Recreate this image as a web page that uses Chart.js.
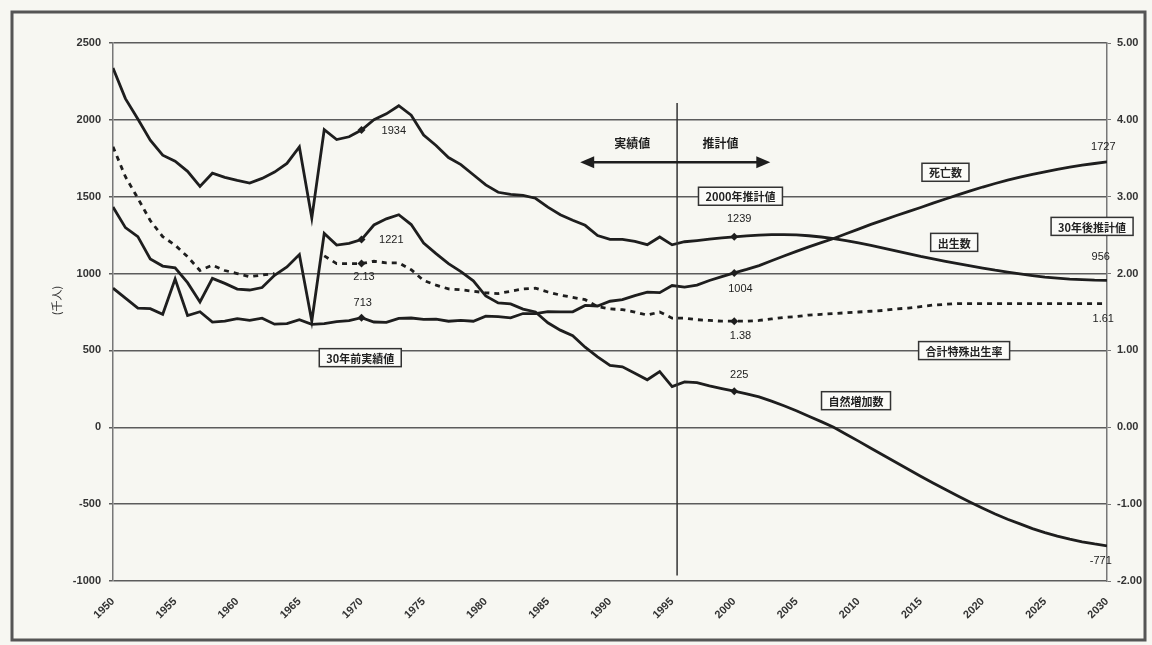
<!DOCTYPE html>
<html lang="ja">
<head>
<meta charset="utf-8">
<script src="https://cdn.jsdelivr.net/npm/chart.js@4.4.1/dist/chart.umd.min.js"></script>
<style>
  html, body { margin: 0; padding: 0; background: #f7f7f2; }
</style>
</head>
<body>
<canvas id="chart" width="1152" height="645"></canvas>
<script>
// 年次 (1950-1995 実績値, 1996- 推計値)
const years = [
  1950,1951,1952,1953,1954,1955,1956,1957,1958,1959,
  1960,1961,1962,1963,1964,1965,1966,1967,1968,1969,
  1970,1971,1972,1973,1974,1975,1976,1977,1978,1979,
  1980,1981,1982,1983,1984,1985,1986,1987,1988,1989,
  1990,1991,1992,1993,1994,1995,1996,1997,1998,1999,
  2000,2001,2002,2003,2004,2005,2006,2007,2008,2009,
  2010,2011,2012,2013,2014,2015,2016,2017,2018,2019,
  2020,2021,2022,2023,2024,2025,2026,2027,2028,2029,
  2030
];
// 出生数 (千人)
const births = [
  2338,2138,2005,1868,1770,1731,1665,1567,1653,1626,
  1606,1589,1619,1660,1717,1824,1361,1936,1872,1890,
  1934,2001,2039,2092,2030,1901,1833,1755,1709,1643,
  1577,1529,1515,1509,1490,1432,1383,1347,1314,1247,
  1222,1223,1209,1188,1238,1187,1207,1215,1224,1232,
  1239,1245,1250,1253,1254,1252,1246,1238,1228,1214,
  1199,1184,1166,1148,1130,1112,1096,1080,1065,1050,
  1036,1022,1010,998,987,977,970,964,960,957,
  956
];
// 死亡数 (千人)
const deaths = [
  905,840,775,772,735,965,727,752,684,690,
  707,696,710,671,674,700,670,675,687,694,
  713,685,683,709,711,702,703,690,696,690,
  723,720,712,740,740,752,751,751,793,789,
  820,830,857,879,876,922,912,925,955,980,
  1004,1027,1052,1083,1114,1144,1174,1201,1228,1259,
  1289,1320,1348,1376,1403,1430,1458,1485,1512,1538,
  1563,1586,1608,1628,1646,1662,1678,1692,1705,1716,
  1727
];
// 自然増加数 (千人)
const natural = [
  1433,1299,1240,1095,1049,1037,941,815,969,936,
  899,893,909,989,1043,1124,691,1261,1185,1196,
  1221,1316,1356,1383,1319,1199,1130,1065,1013,953,
  854,809,803,769,750,680,632,596,521,458,
  402,393,352,309,362,265,295,290,269,252,
  235,218,198,170,140,108,72,37,0,-45,
  -90,-136,-182,-228,-273,-318,-362,-405,-447,-488,
  -527,-564,-598,-628,-659,-685,-708,-728,-745,-759,
  -771
];
// 合計特殊出生率 (右軸)
const tfr = [
  3.65,3.26,2.98,2.69,2.48,2.37,2.22,2.04,2.11,2.04,
  2.00,1.96,1.98,2.00,null,null,null,2.23,2.13,2.13,
  2.13,2.16,2.14,2.14,2.05,1.91,1.85,1.80,1.79,1.77,
  1.75,1.74,1.77,1.80,1.81,1.76,1.72,1.69,1.66,1.57,
  1.54,1.53,1.50,1.46,1.50,1.42,1.42,1.40,1.39,1.38,
  1.38,1.38,1.39,1.41,1.43,1.44,1.46,1.47,1.48,1.49,
  1.50,1.51,1.52,1.54,1.55,1.57,1.59,1.60,1.61,1.61,
  1.61,1.61,1.61,1.61,1.61,1.61,1.61,1.61,1.61,1.61,
  1.61
];
const markYears = [1970, 2000];

// 注記 [文字, 年, 左軸の値]
const valueNotes = [
  ['1934', 1972.6, 1930], ['1221', 1972.4, 1216], ['2.13', 1970.2, 975], ['713', 1970.1, 812],
  ['1239', 2000.4, 1353], ['1004', 2000.5, 903], ['1.38', 2000.5, 597], ['225', 2000.4, 342],
  ['1727', 2029.7, 1822], ['956', 2029.5, 1105], ['1.61', 2029.7, 707], ['-771', 2029.5, -870]
];
const boxNotes = [
  ['30年前実績値', 1969.9, 453], ['2000年推計値', 2000.5, 1503], ['死亡数', 2017.0, 1659],
  ['出生数', 2017.7, 1203], ['合計特殊出生率', 2018.5, 499], ['自然増加数', 2009.8, 173],
  ['30年後推計値', 2028.8, 1307]
];
const dividerYear = 1995.4;

const INK = '#1e1e1e';
const toXY = vals => years.map((yr, i) => ({x: yr, y: vals[i]}));
const markRadius = ctx => (ctx.raw && markYears.includes(ctx.raw.x)) ? 4 : 0;

function lineSet(label, vals, axis, dash) {
  return {
    label: label,
    data: toXY(vals),
    yAxisID: axis,
    borderColor: INK,
    backgroundColor: INK,
    borderWidth: 2.8,
    borderDash: dash || [],
    pointStyle: 'rectRot',
    pointRadius: markRadius,
    pointBorderWidth: 0,
    tension: 0,
    spanGaps: false
  };
}

const notesPlugin = {
  id: 'notes',
  beforeDraw(chart) {
    const c = chart.ctx;
    c.save();
    c.fillStyle = '#f7f7f2';
    c.fillRect(0, 0, chart.width, chart.height);
    c.restore();
  },
  afterDraw(chart) {
    const c = chart.ctx;
    const sx = chart.scales.x, sy = chart.scales.y;
    const X = v => sx.getPixelForValue(v), Y = v => sy.getPixelForValue(v);
    c.save();

    // 実績値 | 推計値 の区切り線
    c.strokeStyle = '#333';
    c.lineWidth = 1.5;
    c.beginPath();
    c.moveTo(X(dividerYear), Y(2110));
    c.lineTo(X(dividerYear), Y(-965));
    c.stroke();

    // 両矢印
    const ay = Y(1724), ax1 = X(1987.6), ax2 = X(2002.9);
    c.strokeStyle = INK;
    c.lineWidth = 2.5;
    c.beginPath();
    c.moveTo(ax1 + 8, ay);
    c.lineTo(ax2 - 8, ay);
    c.stroke();
    c.fillStyle = INK;
    c.beginPath();
    c.moveTo(ax1, ay); c.lineTo(ax1 + 14, ay - 6); c.lineTo(ax1 + 14, ay + 6);
    c.closePath(); c.fill();
    c.beginPath();
    c.moveTo(ax2, ay); c.lineTo(ax2 - 14, ay - 6); c.lineTo(ax2 - 14, ay + 6);
    c.closePath(); c.fill();

    c.font = 'bold 12px "Noto Sans CJK JP"';
    c.textAlign = 'center';
    c.textBaseline = 'middle';
    c.fillText('実績値', X(1991.8), Y(1848));
    c.fillText('推計値', X(1998.9), Y(1848));

    // 数値ラベル
    c.font = '11px "Liberation Sans"';
    c.fillStyle = '#222';
    valueNotes.forEach(([t, x, y]) => c.fillText(t, X(x), Y(y)));

    // 枠付きラベル
    c.font = 'bold 11px "Noto Sans CJK JP"';
    boxNotes.forEach(([t, x, y]) => {
      const w = c.measureText(t).width + 14, h = 18;
      const cx = X(x), cy = Y(y);
      c.fillStyle = '#fbfbf8';
      c.fillRect(cx - w / 2, cy - h / 2, w, h);
      c.strokeStyle = '#333';
      c.lineWidth = 1.5;
      c.strokeRect(cx - w / 2, cy - h / 2, w, h);
      c.fillStyle = '#222';
      c.fillText(t, cx, cy + 1);
    });

    // 縦軸タイトル
    c.translate(chart.chartArea.left - 56, Y(825));
    c.rotate(-Math.PI / 2);
    c.font = '11px "Noto Sans CJK JP"';
    c.fillStyle = '#333';
    c.fillText('(千人)', 0, 0);
    c.setTransform(1, 0, 0, 1, 0, 0);

    // 外枠
    c.strokeStyle = '#555';
    c.lineWidth = 3;
    c.strokeRect(12, 12, 1133, 628);
    c.restore();
  }
};

const tickFont = {family: '"Liberation Sans"', size: 11, weight: 'bold'};

new Chart(document.getElementById('chart'), {
  type: 'line',
  data: {
    datasets: [
      lineSet('出生数', births, 'y'),
      lineSet('死亡数', deaths, 'y'),
      lineSet('自然増加数', natural, 'y'),
      lineSet('合計特殊出生率', tfr, 'y1', [5, 5])
    ]
  },
  options: {
    responsive: false,
    animation: false,
    layout: {padding: {top: 43, left: 0, right: 0, bottom: 0}},
    plugins: {legend: {display: false}, tooltip: {enabled: false}},
    scales: {
      x: {
        type: 'linear', min: 1950, max: 2030,
        ticks: {stepSize: 5, autoSkip: false, maxRotation: 45, minRotation: 45,
                callback: v => String(v), font: tickFont, color: '#333', padding: 6},
        grid: {display: false},
        border: {display: false},
        afterFit: s => { s.height = 64; }
      },
      y: {
        position: 'left', min: -1000, max: 2500,
        ticks: {stepSize: 500, font: tickFont, color: '#333', padding: 8,
                callback: v => String(v)},
        grid: {color: '#5c5c5c', lineWidth: 1.5, tickLength: 4},
        border: {color: '#777', width: 1.5},
        afterFit: s => { s.width = 113; }
      },
      y1: {
        position: 'right', min: -2, max: 5,
        ticks: {stepSize: 1, font: tickFont, color: '#333', padding: 6,
                callback: v => v.toFixed(2)},
        grid: {drawOnChartArea: false, tickLength: 4, color: '#777'},
        border: {color: '#777', width: 1.5},
        afterFit: s => { s.width = 45; }
      }
    }
  },
  plugins: [notesPlugin]
});
</script>
</body>
</html>
